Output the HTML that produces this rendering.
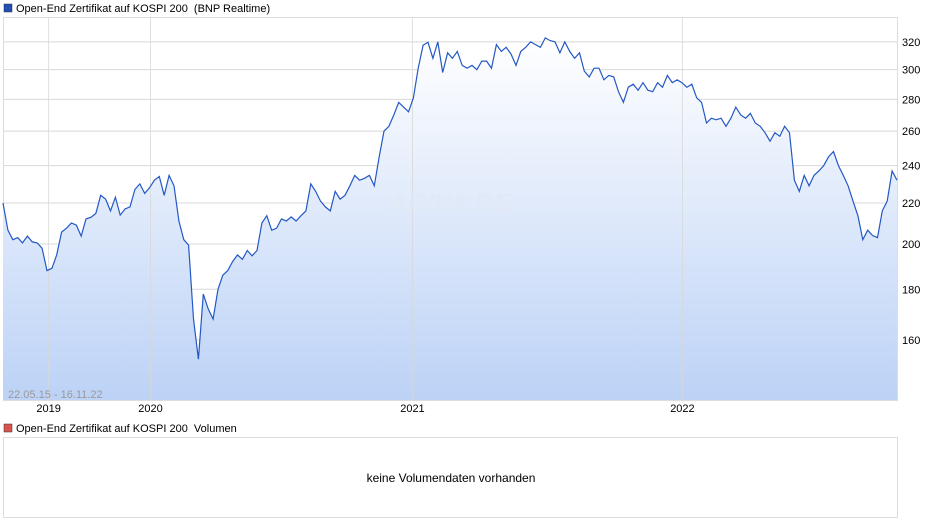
<!DOCTYPE html>
<html><head><meta charset="utf-8"><style>
body{margin:0;background:#fff;font-family:"Liberation Sans",sans-serif;}
svg{display:block}
</style></head><body>
<svg width="940" height="526" viewBox="0 0 940 526">
<defs>
<linearGradient id="fillg" x1="0" y1="0" x2="0" y2="1">
<stop offset="0" stop-color="#ffffff"/><stop offset="1" stop-color="#bcd2f6"/>
</linearGradient>
</defs>
<rect x="4" y="4" width="8" height="8" fill="#1f4fb4" stroke="#333" stroke-width="0.5"/>
<text x="16" y="12" font-size="11" fill="#000" xml:space="preserve">Open-End Zertifikat auf KOSPI 200  (BNP Realtime)</text>
<rect x="3.5" y="17.5" width="894" height="383" fill="#fff" stroke="#ddd"/>
<g id="grid"></g>
<path id="area" fill="url(#fillg)"/>
<g id="vgrid"></g>
<text x="450" y="212" font-size="26" font-style="italic" font-weight="bold" fill="#e2e9f5" text-anchor="middle" opacity="0.7">ARIVA.DE</text>
<path id="line" fill="none" stroke="#2458c4" stroke-width="1.2"/>
<g id="ylabels"></g>
<g id="xlabels"></g>
<text x="8" y="398" font-size="11" fill="#999">22.05.15 - 16.11.22</text>
<rect x="4" y="424" width="8" height="8" fill="#d9534f" stroke="#333" stroke-width="0.5"/>
<text x="16" y="432" font-size="11" fill="#000" xml:space="preserve">Open-End Zertifikat auf KOSPI 200  Volumen</text>
<rect x="3.5" y="437.5" width="894" height="80" fill="#fff" stroke="#ddd"/>
<text x="451" y="482" font-size="12" fill="#000" text-anchor="middle">keine Volumendaten vorhanden</text>
</svg>
<script>
const values=[220,206.5,202,203,200.5,203.7,201,200.5,198,188,189,195,205.6,207.5,210,209,203.7,212,212.8,214.7,224,222,216,223,213.9,217,218,227,230,225,228,232,234,224,234.6,229,211,202,199.5,168,153,178,172,168,180,186,188,192,195,193,197,194.6,197,210,213.6,206.5,207.5,212,211,213,211,213.6,216,230,226,221,218,216,226,222,224,229,234.6,232,233,234.6,229,245,260,263,270,278,275,272,281,301,317.5,319.7,308,320,298,312,308,313,303,301,303,300,306,306,301,318,313,316,311,303,313,316,320,318,316,323,321,320,312,320,313,308,312,299,295,301,301,293,296,295,285,278,288,290,286,291,286,285,291,288,296,291,293,291,288,290,281,278,265,268,267,268,263,268,275,270,268,271,265,263,259,254,259,257,263,259,232,226,234.6,229,234.6,237,240,245,248,240,234.6,229,221,213.6,202,206.5,204,203,216,221,237,232];
const yTicks=[160,180,200,220,240,260,280,300,320];
const xTickLabels=["2019","2020","2021","2022"];
const xTickFrac=[0.051,0.165,0.458,0.760];
const X0=3,X1=897,Y200=244,K=430;
const sx=i=>X0+i*(X1-X0)/(values.length-1);
const sy=v=>Y200-K*Math.log(v/200);
const ns='http://www.w3.org/2000/svg';
const grid=document.getElementById('grid'),yl=document.getElementById('ylabels'),xl=document.getElementById('xlabels'),vg=document.getElementById('vgrid');
yTicks.forEach(t=>{const y=sy(t);
const l=document.createElementNS(ns,'line');


l.setAttribute('x1',4);l.setAttribute('x2',897);l.setAttribute('y1',y);l.setAttribute('y2',y);l.setAttribute('stroke','#d8d8d8');grid.appendChild(l);
const tx=document.createElementNS(ns,'text');


tx.setAttribute('x',902);tx.setAttribute('y',y+4);tx.setAttribute('font-size','11');tx.textContent=t;yl.appendChild(tx);});
xTickLabels.forEach((s,i)=>{const x=X0+xTickFrac[i]*(X1-X0);
const l=document.createElementNS(ns,'line');


l.setAttribute('x1',x);l.setAttribute('x2',x);l.setAttribute('y1',18);l.setAttribute('y2',400);l.setAttribute('stroke','#d8d8d8');l.setAttribute('opacity','0.8');vg.appendChild(l);
const tx=document.createElementNS(ns,'text');


tx.setAttribute('x',x);tx.setAttribute('y',412);tx.setAttribute('font-size','11');tx.setAttribute('text-anchor','middle');tx.textContent=s;xl.appendChild(tx);});
let d='';values.forEach((v,i)=>{d+=(i?'L':'M')+sx(i).toFixed(1)+' '+sy(v).toFixed(1);});
document.getElementById('line').setAttribute('d',d);
document.getElementById('area').setAttribute('d',d+'L'+X1+' 400L'+X0+' 400Z');
</script>
</body></html>
